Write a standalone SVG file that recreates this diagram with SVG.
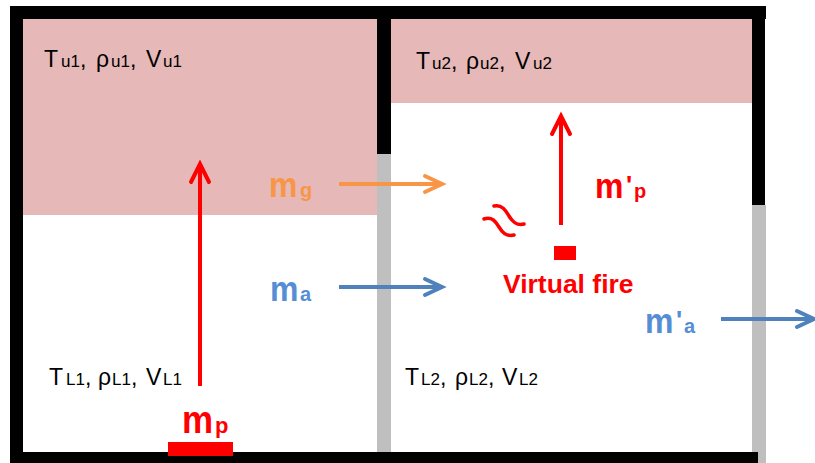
<svg xmlns="http://www.w3.org/2000/svg" width="815" height="463" viewBox="0 0 815 463">
<style>
.v{font-family:"Liberation Sans",Arial,sans-serif;font-size:23px;fill:#000}
.s{font-size:17px}
.b{font-family:"Liberation Sans",Arial,sans-serif;font-weight:bold}
.m{font-size:32px}
.sb{font-size:20px}
.red{fill:#ff0000}
.org{fill:#f79646}
.blu{fill:#558ed5}
.ln{fill:none;stroke-width:4}
</style>
<defs>
<marker id="hr" markerUnits="userSpaceOnUse" viewBox="-24 -14 28 28" markerWidth="28" markerHeight="28" refX="0" refY="0" orient="auto" overflow="visible">
<path d="M-18,-9 L0,0 L-18,9" fill="none" stroke="#ff0000" stroke-width="4" stroke-linecap="round"/>
</marker>
<marker id="ho" markerUnits="userSpaceOnUse" viewBox="-24 -14 28 28" markerWidth="28" markerHeight="28" refX="0" refY="0" orient="auto" overflow="visible">
<path d="M-17,-8 L0,0 L-17,8" fill="none" stroke="#f79646" stroke-width="4" stroke-linecap="round"/>
</marker>
<marker id="hb" markerUnits="userSpaceOnUse" viewBox="-24 -14 28 28" markerWidth="28" markerHeight="28" refX="0" refY="0" orient="auto" overflow="visible">
<path d="M-17,-8 L0,0 L-17,8" fill="none" stroke="#4f81bd" stroke-width="4" stroke-linecap="round"/>
</marker>
</defs>
<rect width="815" height="463" fill="#fff"/>
<g id="room1">
<rect x="23" y="19" width="354" height="196" fill="#e6b8b7"/>
<text class="v" y="67"><tspan x="44">T</tspan><tspan class="s" x="61">u1</tspan><tspan>, </tspan><tspan x="96">ρ</tspan><tspan class="s" x="111">u1</tspan><tspan>, </tspan><tspan x="146">V</tspan><tspan class="s" x="163">u1</tspan></text>
<text class="v" y="385"><tspan x="49">T</tspan><tspan class="s" x="66">L1</tspan><tspan>, </tspan><tspan x="98">ρ</tspan><tspan class="s" x="112">L1</tspan><tspan>, </tspan><tspan x="146">V</tspan><tspan class="s" x="163">L1</tspan></text>
</g>
<g id="room2">
<rect x="391" y="19" width="361" height="84" fill="#e6b8b7"/>
<text class="v" y="69"><tspan x="416">T</tspan><tspan class="s" x="432">u2</tspan><tspan>, </tspan><tspan x="466">ρ</tspan><tspan class="s" x="480">u2</tspan><tspan>, </tspan><tspan x="515">V</tspan><tspan class="s" x="533">u2</tspan></text>
<text class="v" y="385"><tspan x="405">T</tspan><tspan class="s" x="421">L2</tspan><tspan>, </tspan><tspan x="455">ρ</tspan><tspan class="s" x="469">L2</tspan><tspan>, </tspan><tspan x="502">V</tspan><tspan class="s" x="519">L2</tspan></text>
</g>
<g id="walls">
<rect x="10" y="6" width="756" height="13" fill="#000"/>
<rect x="10" y="6" width="13" height="457" fill="#000"/>
<rect x="752" y="6" width="13" height="199" fill="#000"/>
<rect x="752" y="205" width="14" height="258" fill="#bfbfbf"/>
<rect x="377" y="19" width="14" height="135" fill="#000"/>
<rect x="377" y="154" width="14" height="298" fill="#bfbfbf"/>
<rect x="10" y="452" width="748" height="11" fill="#000"/>
</g>
<g id="fire1">
<rect x="168" y="442" width="65" height="14" fill="#ff0000"/>
<text class="b red" transform="translate(182,433) scale(1,1.1)" font-size="35">m</text>
<text class="b red" x="215" y="433" font-size="22">p</text>
</g>
<g id="virtual-fire">
<rect x="554" y="246" width="22" height="14" fill="#ff0000"/>
<path d="M494,206 C502,204 506,211 509,216 S516,226 524,224 M484,219 C492,216 496,222 499,227 S506,237 514,235" fill="none" stroke="#ff0000" stroke-width="3.5" stroke-linecap="round"/>
<text class="b red" x="503" y="293" font-size="26.5">Virtual fire</text>
<text class="b red m" transform="translate(595,198) scale(1,1.12)">m</text>
<text class="b red" x="626" y="194" font-size="26">'</text>
<text class="b red sb" x="634" y="198">p</text>
</g>
<g id="label-mg">
<text class="b org m" transform="translate(269,197) scale(1,1.12)">m</text>
<text class="b org sb" x="300" y="197">g</text>
</g>
<g id="label-ma">
<text class="b blu m" transform="translate(270,301) scale(1,1.12)">m</text>
<text class="b blu sb" x="300" y="301">a</text>
</g>
<g id="label-m2a">
<text class="b blu m" transform="translate(645,333) scale(1,1.12)">m</text>
<text class="b blu" x="676" y="329" font-size="26">'</text>
<text class="b blu sb" x="684" y="333">a</text>
</g>
<g id="connectors">
<line class="ln" x1="200" y1="386" x2="200" y2="164" stroke="#ff0000" marker-end="url(#hr)"/>
<line class="ln" x1="561" y1="225" x2="561" y2="116" stroke="#ff0000" marker-end="url(#hr)"/>
<line class="ln" x1="339" y1="184" x2="442" y2="184" stroke="#f79646" marker-end="url(#ho)"/>
<line class="ln" x1="339" y1="287" x2="442" y2="287" stroke="#4f81bd" marker-end="url(#hb)"/>
<line class="ln" x1="721" y1="319" x2="814" y2="319" stroke="#4f81bd" marker-end="url(#hb)"/>
</g>
</svg>
